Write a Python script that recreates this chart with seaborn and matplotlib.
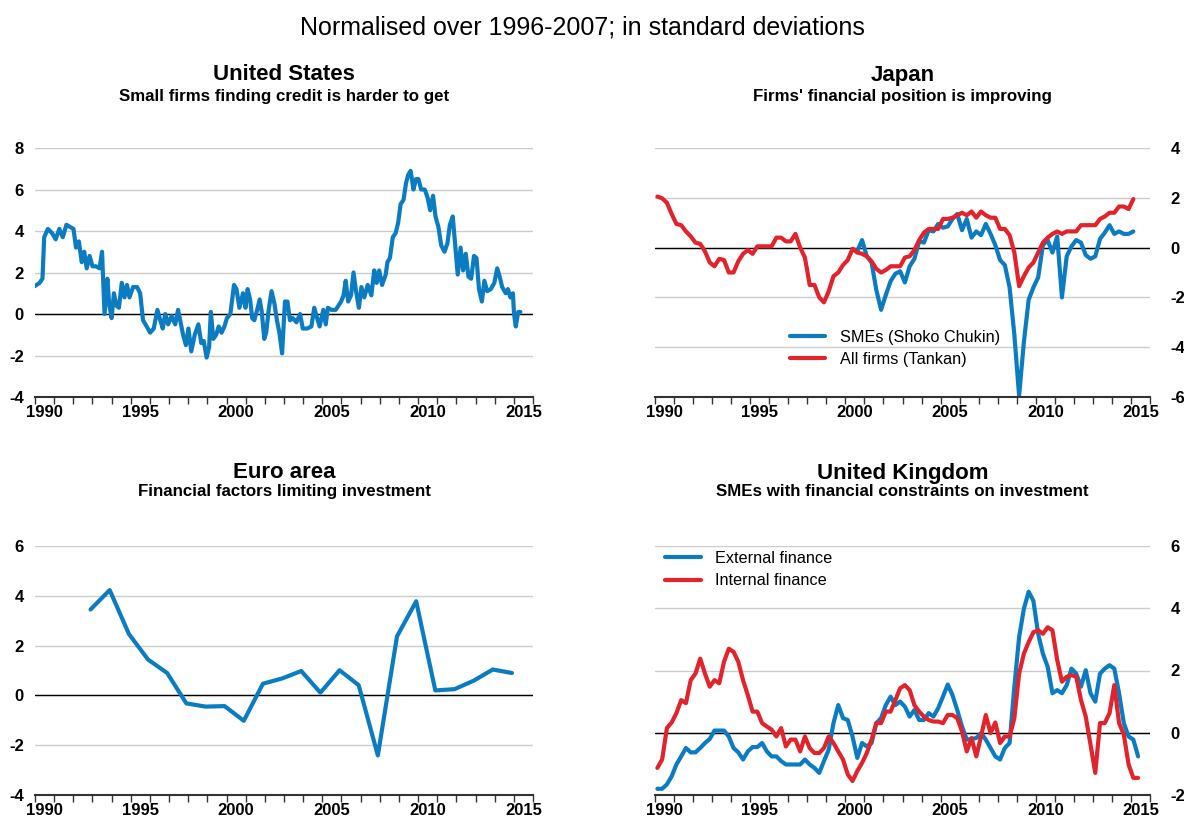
import numpy as np
import pandas as pd
import seaborn as sns
import matplotlib.pyplot as plt

# ---- United States: small firms finding credit harder to get (monthly survey)
us_dates = [1990.00, 1990.24, 1990.39, 1990.48, 1990.67, 1990.89, 1991.08, 1991.27, 1991.45, 1991.64,
            1991.82, 1992.01, 1992.14, 1992.29, 1992.44, 1992.57, 1992.70, 1992.85, 1993.00, 1993.18,
            1993.37, 1993.50, 1993.63, 1993.78, 1993.87, 1994.00, 1994.12, 1994.25, 1994.38, 1994.53,
            1994.67, 1994.80, 1994.93, 1995.12, 1995.33, 1995.49, 1995.64, 1995.83, 1996.01, 1996.20,
            1996.39, 1996.54, 1996.67, 1996.80, 1996.95, 1997.13, 1997.32, 1997.47, 1997.60, 1997.73,
            1997.88, 1998.01, 1998.16, 1998.34, 1998.53, 1998.68, 1998.81, 1998.96, 1999.09, 1999.18,
            1999.31, 1999.46, 1999.59, 1999.74, 1999.89, 2000.02, 2000.20, 2000.39, 2000.52, 2000.67,
            2000.86, 2000.99, 2001.10, 2001.23, 2001.34, 2001.45, 2001.60, 2001.73, 2001.84, 2001.97,
            2002.07, 2002.20, 2002.35, 2002.50, 2002.63, 2002.76, 2002.90, 2003.05, 2003.18, 2003.31,
            2003.46, 2003.65, 2003.84, 2003.98, 2004.21, 2004.43, 2004.58, 2004.73, 2004.86, 2005.05,
            2005.18, 2005.29, 2005.47, 2005.70, 2005.98, 2006.11, 2006.22, 2006.35, 2006.50, 2006.63,
            2006.76, 2006.91, 2007.04, 2007.19, 2007.37, 2007.56, 2007.71, 2007.84, 2007.97, 2008.12,
            2008.31, 2008.40, 2008.53, 2008.68, 2008.83, 2008.96, 2009.09, 2009.24, 2009.37, 2009.48,
            2009.61, 2009.76, 2009.89, 2010.02, 2010.16, 2010.35, 2010.50, 2010.63, 2010.78, 2010.91,
            2011.06, 2011.21, 2011.38, 2011.53, 2011.66, 2011.81, 2011.94, 2012.07, 2012.22, 2012.35,
            2012.49, 2012.63, 2012.77, 2012.92, 2013.05, 2013.18, 2013.33, 2013.46, 2013.61, 2013.80,
            2013.98, 2014.13, 2014.26, 2014.39, 2014.58, 2014.69, 2014.82, 2014.95, 2015.01, 2015.10,
            2015.23, 2015.34]
us_values = [1.35, 1.5, 1.7, 3.7, 4.1, 3.9, 3.6, 4.1, 3.7, 4.3,
             4.2, 4.1, 3.2, 3.5, 2.5, 3.0, 2.2, 2.8, 2.3, 2.3,
             2.2, 3.0, 0.0, 1.7, 0.5, -0.2, 1.0, 0.4, 0.3, 1.5,
             0.8, 1.4, 0.8, 1.3, 1.3, 1.0, -0.3, -0.6, -0.9, -0.7,
             0.2, -0.3, -0.7, 0.0, -0.5, -0.1, -0.5, 0.2, -0.4, -1.0,
             -1.5, -0.7, -1.8, -1.0, -0.5, -1.4, -1.3, -2.1, -1.6, 0.1,
             -1.2, -1.0, -0.6, -0.9, -0.6, -0.2, 0.0, 1.4, 1.2, 0.3,
             1.0, 0.3, 1.2, 0.7, -0.2, -0.3, 0.2, 0.7, 0.1, -1.2,
             -0.9, 0.2, 1.1, 0.5, -0.3, -0.9, -1.9, 0.6, 0.6, -0.3,
             -0.2, -0.4, 0.0, -0.7, -0.7, -0.6, 0.3, -0.2, -0.6, 0.2,
             -0.5, 0.3, 0.2, 0.2, 0.6, 0.9, 1.6, 0.6, 0.9, 2.0,
             1.1, 0.3, 1.3, 0.8, 1.4, 0.9, 2.1, 1.5, 2.1, 1.4,
             1.9, 2.5, 2.7, 3.7, 3.9, 4.4, 5.3, 5.5, 6.3, 6.7,
             6.9, 6.0, 6.5, 6.5, 6.0, 6.0, 5.6, 5.0, 5.7, 4.7,
             4.2, 3.3, 3.0, 3.4, 4.3, 4.7, 3.3, 1.9, 3.2, 2.1,
             2.9, 1.8, 1.7, 2.8, 2.7, 1.2, 0.6, 1.6, 1.1, 1.2,
             1.5, 2.2, 1.8, 1.3, 1.0, 1.2, 0.8, 1.0, 0.0, -0.6,
             0.1, 0.1]

# ---- Japan (quarterly)
jp_tankan = [2.05, 1.98, 1.8, 1.35, 0.95, 0.9, 0.65, 0.45, 0.2, 0.15,
             -0.15, -0.6, -0.75, -0.45, -0.5, -1.0, -1.0, -0.55, -0.25, -0.1,
             -0.25, 0.05, 0.05, 0.05, 0.05, 0.4, 0.4, 0.25, 0.25, 0.55,
             0.0, -0.4, -1.5, -1.5, -2.0, -2.2, -1.75, -1.15, -1.0, -0.7,
             -0.5, -0.05, -0.2, -0.25, -0.35, -0.55, -0.85, -1.0, -0.9, -0.75,
             -0.75, -0.75, -0.4, -0.35, -0.1, 0.3, 0.6, 0.75, 0.75, 0.75,
             1.15, 1.15, 1.2, 1.3, 1.4, 1.3, 1.45, 1.2, 1.45, 1.3,
             1.2, 1.2, 0.75, 0.75, 0.5, -0.2, -1.55, -1.15, -0.8, -0.6,
             -0.2, 0.2, 0.4, 0.55, 0.65, 0.55, 0.65, 0.65, 0.65, 0.9,
             0.9, 0.9, 0.9, 1.15, 1.25, 1.4, 1.4, 1.65, 1.65, 1.55,
             1.95]
jp_smes = [-0.05, -0.15, 0.3, -0.35, -0.6, -1.7, -2.5, -1.9, -1.35,
           -1.05, -0.95, -1.4, -0.75, -0.45, 0.25, 0.2, 0.7, 0.65, 0.95,
           0.8, 0.85, 1.15, 1.35, 0.7, 1.15, 0.4, 0.65, 0.5, 0.95,
           0.55, 0.1, -0.5, -0.7, -1.6, -3.5, -5.95, -3.8, -2.1, -1.6,
           -1.2, 0.1, 0.3, -0.2, 0.45, -2.0, -0.35, 0.05, 0.3, 0.2,
           -0.3, -0.45, -0.35, 0.35, 0.6, 0.9, 0.55, 0.65, 0.55, 0.55,
           0.65]

# ---- Euro area (annual survey)
ea_years = list(range(1992, 2015))
ea_values = [3.45, 4.23, 2.47, 1.44, 0.9, -0.32, -0.45, -0.43, -1.02, 0.47,
             0.68, 0.98, 0.11, 1.01, 0.41, -2.41, 2.37, 3.78, 0.2, 0.25,
             0.59, 1.04, 0.9]

# ---- United Kingdom (quarterly)
uk_external = [-1.8, -1.8, -1.66, -1.4, -1.02, -0.76, -0.49, -0.63, -0.63, -0.49,
               -0.33, -0.2, 0.07, 0.07, 0.07, -0.12, -0.49, -0.63, -0.86, -0.6,
               -0.46, -0.46, -0.33, -0.6, -0.76, -0.76, -0.91, -1.02, -1.02, -1.02,
               -1.02, -0.86, -1.02, -1.13, -1.29, -0.91, -0.54, 0.31, 0.89, 0.47,
               0.41, -0.12, -0.81, -0.33, -0.44, -0.33, 0.31, 0.47, 0.89, 1.16,
               0.89, 1.0, 0.84, 0.52, 0.73, 0.41, 0.41, 0.63, 0.52, 0.79,
               1.16, 1.55, 1.21, 0.73, 0.2, -0.22, -0.2, -0.17, -0.01, -0.22,
               -0.49, -0.76, -0.86, -0.49, -0.33, 1.48, 3.07, 3.98, 4.53, 4.24,
               3.18, 2.54, 2.12, 1.27, 1.37, 1.27, 1.53, 2.06, 1.9, 1.48,
               2.01, 1.27, 1.0, 1.9, 2.06, 2.17, 2.06, 1.27, 0.31, -0.12,
               -0.22, -0.76]
uk_internal = [-1.13, -0.86, 0.15, 0.33, 0.63, 1.05, 0.95, 1.69, 1.9, 2.38,
               1.9, 1.48, 1.69, 1.59, 2.28, 2.7, 2.6, 2.28, 1.69, 1.21,
               0.68, 0.68, 0.31, 0.2, 0.1, -0.12, 0.15, -0.44, -0.22, -0.22,
               -0.6, -0.12, -0.49, -0.65, -0.65, -0.49, -0.12, -0.33, -0.6, -0.86,
               -1.34, -1.55, -1.23, -0.97, -0.65, -0.22, 0.31, 0.31, 0.68, 0.68,
               1.05, 1.43, 1.53, 1.37, 0.89, 0.68, 0.52, 0.41, 0.36, 0.36,
               0.31, 0.57, 0.57, 0.47, 0.04, -0.6, -0.17, -0.76, -0.12, 0.57,
               -0.01, 0.33, -0.33, -0.12, -0.12, 0.47, 1.9, 2.54, 2.91, 3.23,
               3.29, 3.18, 3.39, 3.29, 2.34, 1.64, 1.8, 1.85, 1.8, 1.05,
               0.52, -0.38, -1.29, 0.31, 0.31, 0.63, 1.53, 0.31, -0.06, -1.02,
               -1.45, -1.45]


def quarter_axis(start, end):
    q = pd.period_range(start, end, freq="Q")
    return np.asarray(q.year + (q.quarter - 0.5) / 4.0)


jp_df = pd.DataFrame({"date": quarter_axis("1990Q1", "2015Q1"), "tankan": jp_tankan})
jp_sme_df = pd.DataFrame({"date": quarter_axis("2000Q2", "2015Q1"), "smes": jp_smes})
uk_df = pd.DataFrame({"date": quarter_axis("1990Q1", "2015Q2"),
                      "external": uk_external, "internal": uk_internal})
us_df = pd.DataFrame({"date": us_dates, "value": us_values})
ea_df = pd.DataFrame({"date": np.array(ea_years) + 0.9, "value": ea_values})

BLUE = "#0B7CC1"
RED = "#E2232B"
W, H = 1184, 817

sns.set_theme(style="white")
plt.rcParams["font.family"] = ["Liberation Sans", "DejaVu Sans"]
plt.rcParams["text.color"] = "black"
plt.rcParams["axes.unicode_minus"] = False


def style_axis(ax, ymin, ymax, right=False):
    ax.set_xlim(1990, 2016)
    ax.set_ylim(ymin, ymax)
    ax.set_xlabel("")
    ax.set_ylabel("")
    ax.set_yticks(range(ymin, ymax + 1, 2))
    ax.set_xticks(range(1990, 2017))
    ax.set_xticklabels([])
    ax.set_xticks([y + 0.5 for y in range(1990, 2016, 5)], minor=True)
    ax.set_xticklabels([str(y) for y in range(1990, 2016, 5)], minor=True)
    ax.tick_params(axis="x", which="major", bottom=True, length=5, width=1,
                   color="#333333", direction="out")
    ax.tick_params(axis="x", which="minor", bottom=True, length=0, pad=6,
                   labelsize=12, labelcolor="black")
    ax.tick_params(axis="y", length=0, labelsize=12, labelcolor="black", pad=8)
    if right:
        ax.yaxis.tick_right()
        ax.tick_params(axis="y", length=0, pad=15)
    ax.grid(axis="y", color="#cccccc", lw=1)
    ax.grid(axis="x", visible=False)
    ax.axhline(0, color="black", lw=1, zorder=1.5)
    for s in ["top", "left", "right"]:
        ax.spines[s].set_visible(False)
    ax.spines["bottom"].set_color("#333333")
    ax.spines["bottom"].set_linewidth(1.5)
    for lab in ax.get_xticklabels(which="both") + ax.get_yticklabels():
        lab.set_fontweight("bold")


def panel_title(ax, title, subtitle, y_title, y_sub):
    pos = ax.get_position()
    xc = (pos.x0 + pos.x1) / 2
    fig.text(xc, 1 - y_title / H, title, ha="center", va="center",
             fontsize=16, fontweight="bold")
    fig.text(xc, 1 - y_sub / H, subtitle, ha="center", va="center",
             fontsize=12.2, fontweight="bold")


fig = plt.figure(figsize=(W / 100, H / 100), dpi=100)
ax_us = fig.add_axes([35 / W, 1 - 397 / H, 498 / W, 249 / H])
ax_jp = fig.add_axes([655 / W, 1 - 397 / H, 495 / W, 249 / H])
ax_ea = fig.add_axes([35 / W, 1 - 795 / H, 498 / W, 249 / H])
ax_uk = fig.add_axes([655 / W, 1 - 795 / H, 495 / W, 249 / H])

lw = 3.0
sns.lineplot(data=us_df, x="date", y="value", ax=ax_us, color=BLUE, linewidth=lw)
sns.lineplot(data=jp_sme_df, x="date", y="smes", ax=ax_jp, color=BLUE, linewidth=lw,
             label="SMEs (Shoko Chukin)")
sns.lineplot(data=jp_df, x="date", y="tankan", ax=ax_jp, color=RED, linewidth=lw,
             label="All firms (Tankan)")
sns.lineplot(data=ea_df, x="date", y="value", ax=ax_ea, color=BLUE, linewidth=lw)
sns.lineplot(data=uk_df, x="date", y="external", ax=ax_uk, color=BLUE, linewidth=lw,
             label="External finance")
sns.lineplot(data=uk_df, x="date", y="internal", ax=ax_uk, color=RED, linewidth=lw,
             label="Internal finance")

style_axis(ax_us, -4, 8)
style_axis(ax_jp, -6, 4, right=True)
style_axis(ax_ea, -4, 6)
style_axis(ax_uk, -2, 6, right=True)

leg_kw = dict(frameon=False, loc="upper left", borderpad=0, borderaxespad=0,
              handlelength=2.2, handletextpad=0.9, labelspacing=0.45,
              prop={"size": 11.7})
ax_jp.legend(bbox_to_anchor=(0.272, 0.27), **leg_kw)
ax_uk.legend(bbox_to_anchor=(0.02, 0.98), **leg_kw)

fig.text(582 / W, 1 - 27 / H, "Normalised over 1996-2007; in standard deviations",
         ha="center", va="center", fontsize=18)
panel_title(ax_us, "United States", "Small firms finding credit is harder to get", 75, 96)
panel_title(ax_jp, "Japan", "Firms' financial position is improving", 75, 96)
panel_title(ax_ea, "Euro area", "Financial factors limiting investment", 473, 492)
panel_title(ax_uk, "United Kingdom", "SMEs with financial constraints on investment", 473, 492)

fig.savefig("out.png", dpi=100)
